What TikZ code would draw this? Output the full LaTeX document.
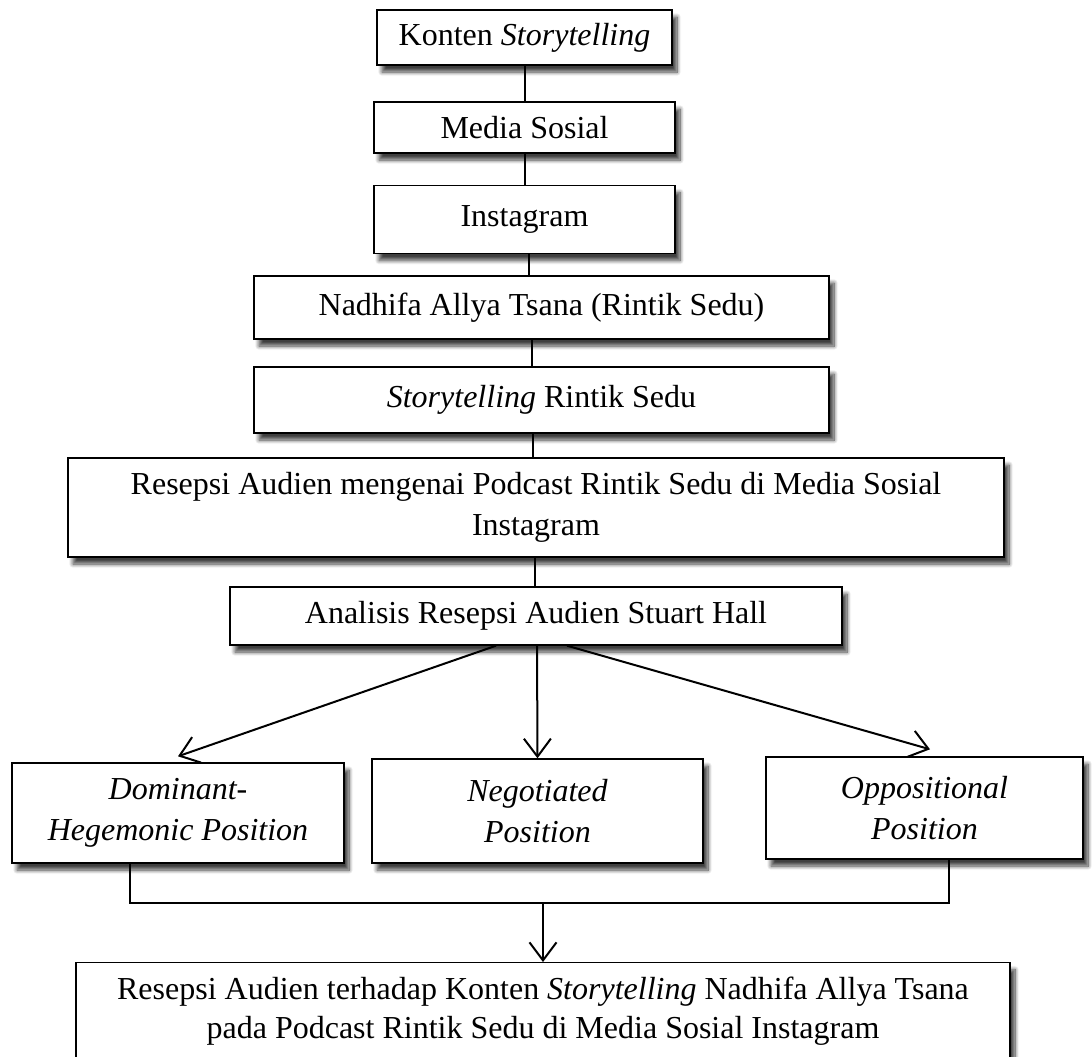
\documentclass[tikz,border=0pt]{standalone}
\usepackage{fontspec}
\setmainfont{Liberation Serif}
\usetikzlibrary{arrows.meta,shadows.blur}
\begin{document}
\begin{tikzpicture}[x=1pt,y=-1pt,
  box/.style={draw=black, line width=1.4pt, fill=white, inner sep=0pt, align=center,
    font=\fontsize{32pt}{41pt}\selectfont,
    blur shadow={shadow xshift=5pt, shadow yshift=-7pt, shadow blur radius=4pt, shadow blur steps=10, shadow opacity=75}},
  txt/.style={inner sep=0pt, align=center, font=\fontsize{32pt}{39pt}\selectfont},
  link/.style={line width=2pt},
  arr/.style={line width=2pt, -{Straight Barb[length=18pt,width=27pt,line width=2pt]}}]
\useasboundingbox (0,0) rectangle (1092,1057);

\node (kon) [box, minimum width=295pt, minimum height=55pt] at (524.5,37.5) {Konten \textit{Storytelling}};
\node (med) [box, minimum width=301pt, minimum height=51pt] at (524.5,127.5) {Media Sosial};
\node (ins) [box, minimum width=301pt, minimum height=68pt] at (524.5,219.5) {Instagram};
\node (nad) [box, minimum width=575pt, minimum height=63pt] at (541.5,307.5) {Nadhifa Allya Tsana (Rintik Sedu)};
\node (sto) [box, minimum width=575pt, minimum height=66pt] at (541.5,400) {\textit{Storytelling} Rintik Sedu};
\node (rsp) [box, minimum width=936pt, minimum height=99pt] at (536,507.5) {Resepsi Audien mengenai Podcast Rintik Sedu di Media Sosial\\Instagram};
\node (ana) [box, minimum width=612pt, minimum height=58pt] at (536,616) {Analisis Resepsi Audien Stuart Hall};

\node (dom) [box, minimum width=332pt, minimum height=100pt] at (178,813) {\textit{Dominant-}\\\textit{Hegemonic Position}};
\node (neg) [box, minimum width=331pt, minimum height=104pt] at (537.5,811) {\textit{Negotiated}\\\textit{Position}};
\node (opp) [box, minimum width=317pt, minimum height=102pt] at (924.5,808) {\textit{Oppositional}\\\textit{Position}};

\node (fin) [box, anchor=north, minimum width=934pt, minimum height=140pt] at (543,962) {};
\node (fint) [txt, anchor=base] at (543,1038) {Resepsi Audien terhadap Konten \textit{Storytelling} Nadhifa Allya Tsana\\pada Podcast Rintik Sedu di Media Sosial Instagram};

\draw[link] (kon.south -| 525,0) -- (med.north -| 525,0);
\draw[link] (med.south -| 525,0) -- (ins.north -| 525,0);
\draw[link] (ins.south -| 529,0) -- (nad.north -| 529,0);
\draw[link] (nad.south -| 532,0) -- (sto.north -| 532,0);
\draw[link] (sto.south -| 533,0) -- (rsp.north -| 533,0);
\draw[link] (rsp.south -| 535,0) -- (ana.north -| 535,0);

\draw[arr] ([xshift=-40pt]ana.south) -- ([yshift=6pt]dom.north);
\draw[arr] ([xshift=1pt]ana.south) -- (neg.north);
\draw[arr] ([xshift=31pt]ana.south) -- ([xshift=5.5pt,yshift=7pt]opp.north);

\coordinate (jl) at (130,903);
\coordinate (jr) at (949,903);
\coordinate (jm) at (543,903);
\draw[link] (dom.south -| jl) -- (jl) -- (jr) -- (opp.south -| jr);
\draw[arr] (jm) -- (fin.north);
\end{tikzpicture}
\end{document}
